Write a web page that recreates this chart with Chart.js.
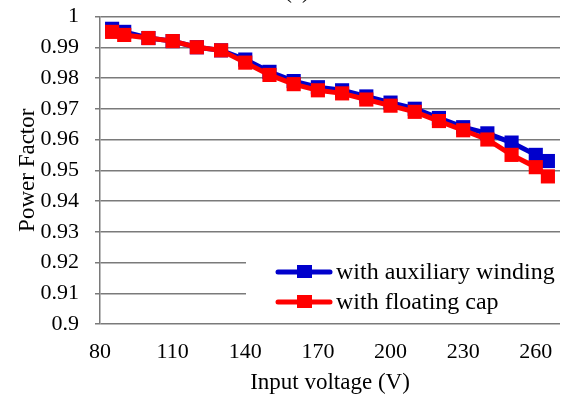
<!DOCTYPE html>
<html lang="en">
<head>
<meta charset="UTF-8">
<title>Power Factor</title>
<script src="https://cdn.jsdelivr.net/npm/chart.js"></script>
<style>
    body { margin: 0; background: #fff; }
    #wrap { width: 570px; height: 398px; }
</style>
</head>
<body>
<div id="wrap"><canvas id="pfChart" width="570" height="398"></canvas></div>
<script>
// data
var voltages = [85, 90, 100, 110, 120, 130, 140, 150, 160, 170, 180, 190, 200, 210, 220, 230, 240, 250, 260, 265];
var pfAuxWinding = [0.996, 0.995, 0.993, 0.992, 0.990, 0.989, 0.986, 0.982, 0.979, 0.977, 0.976, 0.974, 0.972, 0.970, 0.967, 0.964, 0.962, 0.959, 0.955, 0.953];
var pfFloatingCap = [0.995, 0.994, 0.993, 0.992, 0.990, 0.989, 0.985, 0.981, 0.978, 0.976, 0.975, 0.973, 0.971, 0.969, 0.966, 0.963, 0.960, 0.955, 0.951, 0.948];
var xTicks = [80, 110, 140, 170, 200, 230, 260];
var yTicks = [0.9, 0.91, 0.92, 0.93, 0.94, 0.95, 0.96, 0.97, 0.98, 0.99, 1];
var seriesNames = ['with auxiliary winding', 'with floating cap'];
var seriesColors = ['#0000cc', '#ff0000'];

var serif = 'Liberation Serif, Times New Roman, serif';
var gridColor = '#7a7a7a';

function toPoints(ys) {
    return voltages.map(function (v, i) { return { x: v, y: ys[i] }; });
}

// legend box in the lower right, plus the clipped "(a)" caption at the top
var extras = {
    id: 'extras',
    afterDatasetsDraw: function (chart) {
        var ctx = chart.ctx;
        ctx.save();
        ctx.fillStyle = '#fff';
        ctx.fillRect(246, 250, 324, 66);
        ctx.font = '24px ' + serif;
        ctx.textBaseline = 'middle';
        seriesNames.forEach(function (name, i) {
            var y = 272 + i * 30;
            ctx.strokeStyle = seriesColors[i];
            ctx.lineWidth = 5;
            ctx.lineCap = 'round';
            ctx.beginPath();
            ctx.moveTo(278, y);
            ctx.lineTo(330, y);
            ctx.stroke();
            ctx.fillStyle = seriesColors[i];
            ctx.fillRect(297, y - 7, 15, 13);
            ctx.fillStyle = '#000';
            ctx.fillText(name, 336, y + 1);
        });
        ctx.font = '23px ' + serif;
        ctx.textAlign = 'center';
        ctx.textBaseline = 'alphabetic';
        ctx.fillText('(a)', 297, -2);
        ctx.restore();
    }
};

var ctx = document.getElementById('pfChart').getContext('2d');
var pfChart = new Chart(ctx, {
    type: 'line',
    data: {
        datasets: [{
            label: seriesNames[0],
            data: toPoints(pfAuxWinding),
            borderColor: seriesColors[0],
            backgroundColor: seriesColors[0],
            borderWidth: 5,
            pointStyle: 'rect',
            pointRadius: 10,
            pointBorderWidth: 0,
            order: 1
        }, {
            label: seriesNames[1],
            data: toPoints(pfFloatingCap),
            borderColor: seriesColors[1],
            backgroundColor: seriesColors[1],
            borderWidth: 5,
            pointStyle: 'rect',
            pointRadius: 10,
            pointBorderWidth: 0,
            order: 0
        }]
    },
    options: {
        responsive: false,
        animation: false,
        clip: false,
        layout: { padding: { top: 16.5, right: 0, bottom: 0, left: 0 } },
        scales: {
            x: {
                type: 'linear',
                min: 80,
                max: 270,
                afterBuildTicks: function (scale) {
                    scale.ticks = xTicks.map(function (v) { return { value: v }; });
                },
                afterFit: function (scale) {
                    scale.height = 74;
                    scale.paddingLeft = 0;
                    scale.paddingRight = 0;
                },
                grid: { display: false, drawTicks: false },
                border: { display: false },
                ticks: {
                    color: '#000',
                    padding: 15,
                    maxRotation: 0,
                    autoSkip: false,
                    font: { family: serif, size: 22 }
                },
                title: {
                    display: true,
                    text: 'Input voltage (V)',
                    color: '#000',
                    padding: { top: 0, bottom: 1 },
                    font: { family: serif, size: 23 }
                }
            },
            y: {
                min: 0.9,
                max: 1,
                afterBuildTicks: function (scale) {
                    scale.ticks = yTicks.map(function (v) { return { value: v }; });
                },
                afterFit: function (scale) {
                    scale.width = 100;
                    scale.paddingTop = 0;
                    scale.paddingBottom = 0;
                },
                grid: { color: gridColor, lineWidth: 1.5, tickLength: 5 },
                border: { color: gridColor, width: 1.5 },
                ticks: {
                    color: '#000',
                    padding: 16,
                    font: { family: serif, size: 22 },
                    callback: function (v) { return String(Math.round(v * 100) / 100); }
                },
                title: {
                    display: true,
                    text: 'Power Factor',
                    color: '#000',
                    padding: { top: 14, bottom: 0 },
                    font: { family: serif, size: 23 }
                }
            }
        },
        plugins: {
            legend: { display: false },
            tooltip: { enabled: false },
            title: { display: false }
        }
    },
    plugins: [extras]
});
</script>
</body>
</html>
